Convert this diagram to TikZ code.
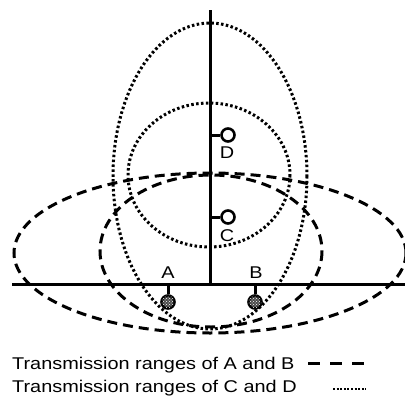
\documentclass[tikz,border=0pt]{standalone}
\usepackage{fontspec}
\setmainfont{Liberation Sans}[FakeStretch=1.17]
\usetikzlibrary{patterns}
\begin{document}
\begin{tikzpicture}[x=1pt,y=-1pt,
  axis/.style={line width=3pt},
  rangeab/.style={line width=3pt, dash pattern=on 10pt off 6pt},
  rangecd/.style={line width=3pt, dash pattern=on 2.5pt off 2.4pt},
  station/.style={circle, draw, line width=2.6pt, minimum size=13pt, inner sep=0pt},
  hatched/.style={station, fill=black!70, postaction={pattern=crosshatch dots, pattern color=white}},
  lbl/.style={font=\fontsize{17}{20}\selectfont, inner sep=0pt},
  stem/.style={line width=3pt}]
\useasboundingbox (0,0) rectangle (405,405);
% ranges
\draw[rangeab] (210,253) ellipse [x radius=196, y radius=80];
\draw[rangeab] (211,251) ellipse [x radius=111, y radius=76];
\draw[rangecd] (210,176) ellipse [x radius=97, y radius=153];
\draw[rangecd] (209,175) ellipse [x radius=81, y radius=72];
% axes
\coordinate (hl) at (12,284);
\coordinate (hr) at (405,284);
\coordinate (vt) at (210,10);
\coordinate (vb) at (210,284);
\draw[axis] (hl) -- (hr);
\draw[axis] (vt) -- (vb);
% stations
\coordinate (ja) at (168,284);
\coordinate (jb) at (255,284);
\coordinate (jc) at (210,217);
\coordinate (jd) at (210,135);
\node[hatched] (a) at (168,302) {};
\node[hatched] (b) at (255,302) {};
\node[station, fill=white] (c) at (228,217) {};
\node[station, fill=white] (d) at (228,135) {};
\draw[stem] (ja) -- (a);
\draw[stem] (jb) -- (b);
\draw[stem] (jc) -- (c);
\draw[stem] (jd) -- (d);
\node[lbl] (la) at (168,273) {A};
\node[lbl] (lb) at (256,273) {B};
\node[lbl] (lc) at (227,236) {C};
\node[lbl] (ld) at (227,153) {D};
% legend
\node[lbl, anchor=base west] (l1) at (12,369) {Transmission ranges of A and B};
\node[lbl, anchor=base west] (l2) at (12,392) {Transmission ranges of C and D};
\coordinate (s1a) at (308,363);
\coordinate (s1b) at (364,363);
\coordinate (s2a) at (333,389);
\coordinate (s2b) at (366,389);
\draw[line width=3pt, dash pattern=on 12pt off 10pt] (s1a) -- (s1b);
\draw[line width=2.4pt, dash pattern=on 2pt off 1.6pt] (s2a) -- (s2b);
\end{tikzpicture}
\end{document}
